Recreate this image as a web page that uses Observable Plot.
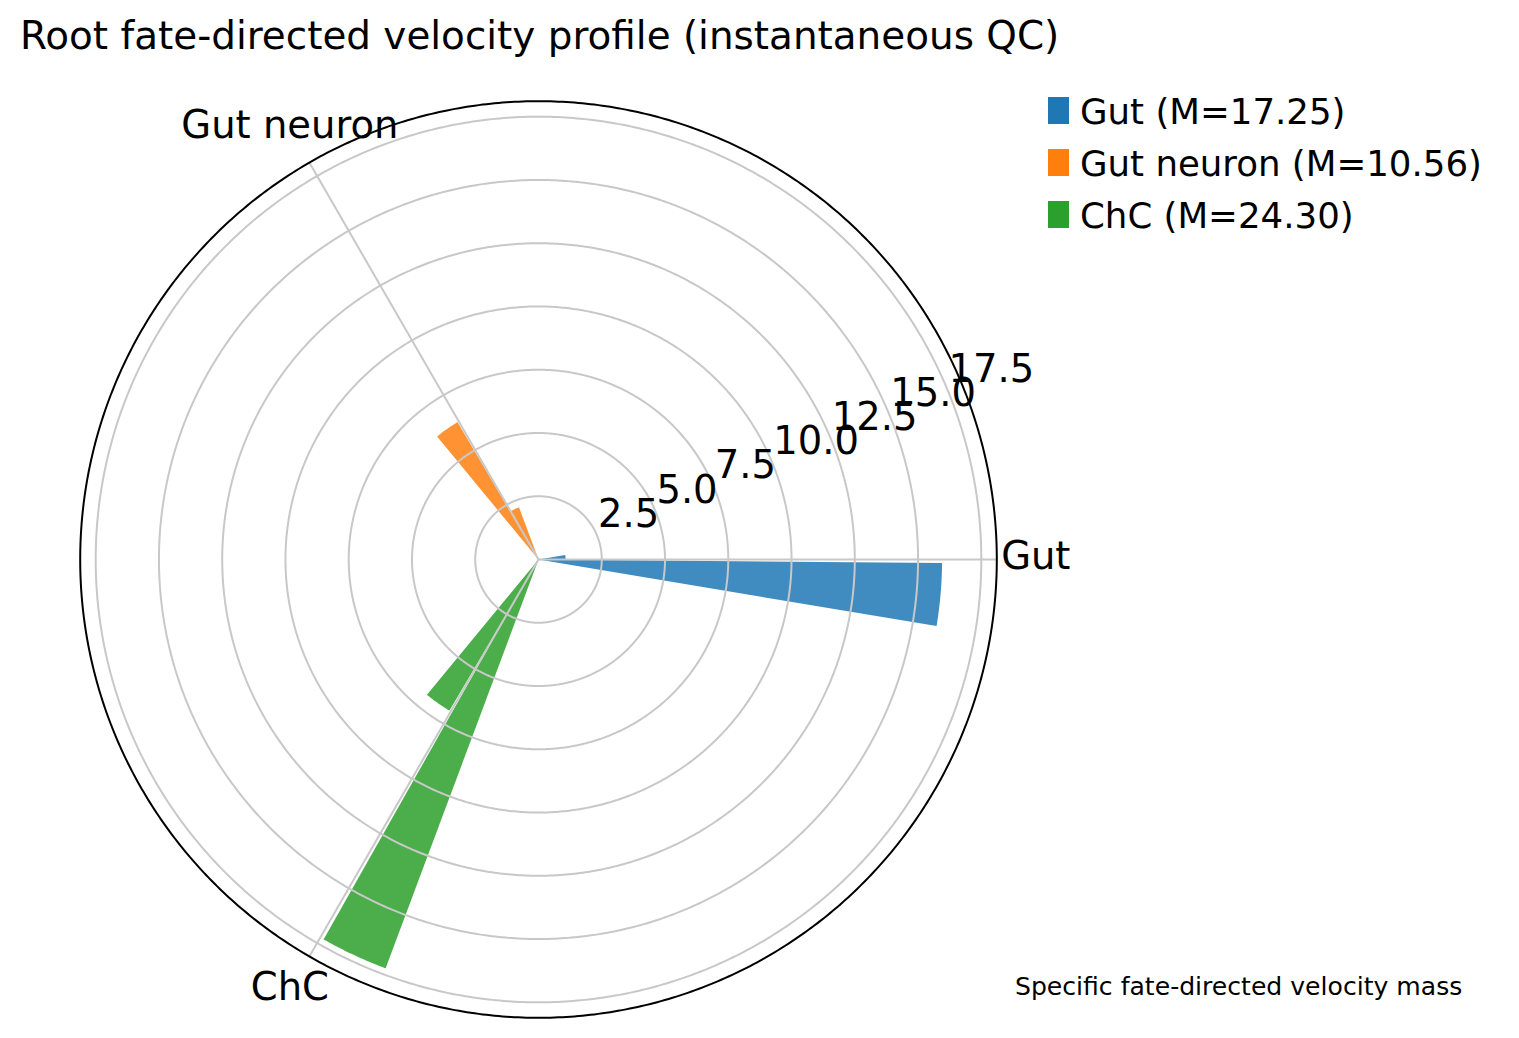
<!DOCTYPE html>
<html>
<head>
<meta charset="utf-8">
<script src="https://cdn.jsdelivr.net/npm/d3@7"></script>
<script src="https://cdn.jsdelivr.net/npm/@observablehq/plot@0.6"></script>
<style>
  body { margin: 0; background: #ffffff; font-family: "DejaVu Sans", sans-serif; color: #000; }
  #wrap { position: relative; width: 1519px; height: 1038px; overflow: hidden; background: #fff; }
  #chart { position: absolute; left: 0; top: 0; }
  .title { position: absolute; left: 20px; top: 17px; font-size: 38.9px; line-height: 1; white-space: nowrap; }
  .sw { position: absolute; width: 21px; height: 27px; }
  .lab { position: absolute; font-size: 35.6px; line-height: 1; white-space: nowrap; }
  .caption { position: absolute; left: 1015px; top: 974px; font-size: 25.1px; line-height: 1; white-space: nowrap; }
</style>
</head>
<body>
<div id="wrap">
  <div id="chart"></div>
  <div class="title" id="title"></div>
  <div id="legend"></div>
  <div class="caption" id="caption"></div>
</div>
<script>
// ---------------- data ----------------
const titleText = "Root fate-directed velocity profile (instantaneous QC)";
const captionText = "Specific fate-directed velocity mass";
const categories = ["Gut", "Gut neuron", "ChC"];
const massM = [17.25, 10.56, 24.30];
// bar just clockwise of each category direction, and bar just counter-clockwise
const clockwiseBar = [15.95, 2.2, 6.93];
const counterBar = [1.07, 6.3, 17.25];
const radialTicks = [2.5, 5.0, 7.5, 10.0, 12.5, 15.0, 17.5];
const seriesColors = ["#1f77b4", "#ff7f0e", "#2ca02c"];

// ---------------- layout ----------------
const W = 1519, H = 1038;
const CX = 538, CY = 559;          // polar centre in px
const R_PX = 458.3;                 // outer circle radius in px
const rmax = 1.05 * Math.max(...clockwiseBar, ...counterBar);
const k = R_PX / rmax;              // px per unit
const stepDeg = 10, barDeg = 9;     // bar spacing / width (degrees)
const rLabelAngle = 22.5;
const thetaLabelPad = 39 / k;
const tickFont = 38.5;

const rad = d => d * Math.PI / 180;
const px = (r, a) => r * Math.cos(rad(a));
const py = (r, a) => r * Math.sin(rad(a));
const catAngle = i => i * 360 / categories.length;

// wedges
const wedges = [];
categories.forEach((c, i) => {
  [[clockwiseBar[i], -1], [counterBar[i], 1]].forEach(([v, s], j) => {
    const mid = catAngle(i) + s * stepDeg / 2;
    const a0 = mid - barDeg / 2, a1 = mid + barDeg / 2;
    const id = c + "-" + j;
    wedges.push({id, series: c, x: 0, y: 0});
    const n = 60;
    for (let t = 0; t <= n; t++) {
      const a = a0 + (a1 - a0) * t / n;
      wedges.push({id, series: c, x: px(v, a), y: py(v, a)});
    }
    wedges.push({id, series: c, x: 0, y: 0});
  });
});

// rings
const circlePts = (r, key) => d3.range(0, 361, 0.5).map(a => ({key, x: px(r, a), y: py(r, a)}));
const rings = radialTicks.flatMap(t => circlePts(t, t));
const outer = circlePts(rmax, "outer");
const spokes = categories.flatMap((c, i) => [
  {key: c, x: 0, y: 0},
  {key: c, x: px(rmax, catAngle(i)), y: py(rmax, catAngle(i))}
]);
const thetaLabels = categories.map((c, i) => ({
  text: c, x: px(rmax + thetaLabelPad, catAngle(i)), y: py(rmax + thetaLabelPad, catAngle(i))
}));

const chart = Plot.plot({
  width: W,
  height: H,
  margin: 0,
  x: {domain: [-CX / k, (W - CX) / k], axis: null},
  y: {domain: [-(H - CY) / k, CY / k], axis: null},
  color: {domain: categories, range: seriesColors},
  style: {fontFamily: "DejaVu Sans, sans-serif", color: "#000", background: "transparent"},
  marks: [
    Plot.line(wedges, {x: "x", y: "y", z: "id", fill: "series", fillOpacity: 0.85, stroke: "none", curve: "linear"}),
    Plot.line(rings, {x: "x", y: "y", z: "key", stroke: "#c8c8c8", strokeWidth: 2}),
    Plot.line(spokes, {x: "x", y: "y", z: "key", stroke: "#c8c8c8", strokeWidth: 2}),
    Plot.line(outer, {x: "x", y: "y", stroke: "#000", strokeWidth: 2}),
    Plot.text(radialTicks, {
      x: t => px(t, rLabelAngle), y: t => py(t, rLabelAngle),
      text: t => t.toFixed(1), textAnchor: "start", lineAnchor: "bottom",
      dy: -8.5, dx: 1, fontSize: tickFont, fill: "#000"
    }),
    Plot.text(thetaLabels, {
      x: "x", y: "y", text: "text", textAnchor: "middle", lineAnchor: "middle",
      dy: -3, fontSize: tickFont, fill: "#000"
    })
  ]
});
document.getElementById("chart").appendChild(chart);

document.getElementById("title").textContent = titleText;
document.getElementById("caption").textContent = captionText;

// legend (HTML, outside the plot frame)
const legend = document.getElementById("legend");
const legX = 1048, legBase0 = 124, legStep = 52.2, legFont = 35.6;
categories.forEach((c, i) => {
  const base = legBase0 + legStep * i;
  const sw = document.createElement("div");
  sw.className = "sw";
  sw.style.left = legX + "px";
  sw.style.top = (base - 27) + "px";
  sw.style.background = seriesColors[i];
  const lab = document.createElement("div");
  lab.className = "lab";
  lab.style.left = (legX + 32) + "px";
  lab.style.top = (base - 0.846 * legFont) + "px";
  lab.textContent = `${c} (M=${massM[i].toFixed(2)})`;
  document.getElementById("wrap").appendChild(sw);
  document.getElementById("wrap").appendChild(lab);
});
</script>
</body>
</html>
